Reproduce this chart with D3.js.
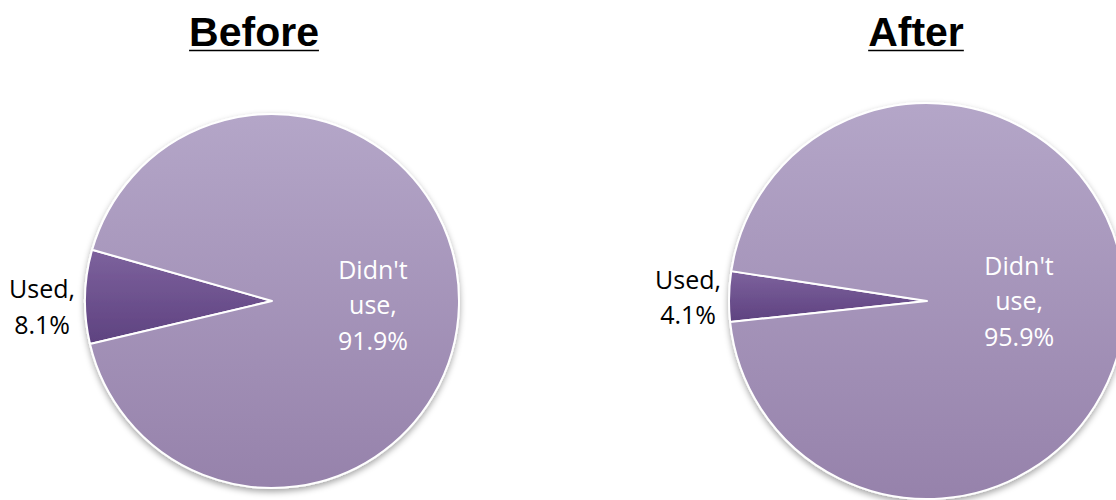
<!DOCTYPE html>
<html>
<head>
<meta charset="utf-8">
<script src="https://cdn.jsdelivr.net/npm/d3@7"></script>
<style>
  html, body { margin: 0; padding: 0; background: #fff; }
  svg { display: block; }
</style>
</head>
<body>
<svg id="chart" width="1116" height="500"></svg>
<script>
// Share of respondents, before and after
const categories = ["Used", "Didn't use"];
const beforeValues = [8.1, 91.9];
const afterValues = [4.1, 95.9];
const titles = ["Before", "After"];

const W = 1116, H = 500;
const svg = d3.select("#chart");
const defs = svg.append("defs");

// Soft shadow under each pie
const shadow = defs.append("filter")
  .attr("id", "pieShadow")
  .attr("x", "-10%").attr("y", "-10%")
  .attr("width", "120%").attr("height", "125%");
shadow.append("feDropShadow")
  .attr("dx", 0).attr("dy", 3)
  .attr("stdDeviation", 3)
  .attr("flood-color", "#000")
  .attr("flood-opacity", 0.35);

// Vertical gradients, one per category
const gradientStops = {
  "Used": ["#7d629d", "#5e4280"],
  "Didn't use": ["#b4a6c8", "#9682ab"]
};
categories.forEach((c, i) => {
  const g = defs.append("linearGradient")
    .attr("id", "grad" + i)
    .attr("x1", 0).attr("y1", 0).attr("x2", 0).attr("y2", 1);
  g.append("stop").attr("offset", "0%").attr("stop-color", gradientStops[c][0]);
  g.append("stop").attr("offset", "100%").attr("stop-color", gradientStops[c][1]);
});

// Panel layout
const panels = [
  { title: titles[0], values: beforeValues, cx: 272, cy: 301, r: 187, titleX: 254, innerFrac: 0.54, innerDy: 2, outerGap: 43, outerDy: 11 },
  { title: titles[1], values: afterValues,  cx: 927, cy: 301, r: 198, titleX: 916, innerFrac: 0.465, innerDy: -2, outerGap: 41, outerDy: 2 }
];

// "Used" slice is centred just above the 9 o'clock position
const usedMid = (271.3 / 180) * Math.PI;
const lineH = 35.5;
const labelFont = "'Open Sans', 'Noto Sans', sans-serif";

panels.forEach(p => {
  // Title with underline
  const t = svg.append("text")
    .attr("x", p.titleX).attr("y", 46)
    .attr("text-anchor", "middle")
    .attr("font-family", "'Liberation Sans', Arial, sans-serif")
    .attr("font-weight", "bold")
    .attr("font-size", 41)
    .attr("fill", "#000")
    .text(p.title);
  const tw = t.node().getComputedTextLength();
  svg.append("line")
    .attr("x1", p.titleX - tw / 2).attr("x2", p.titleX + tw / 2)
    .attr("y1", 50.5).attr("y2", 50.5)
    .attr("stroke", "#000").attr("stroke-width", 1.4);

  const total = d3.sum(p.values);
  const a0 = usedMid - (p.values[0] / total) * Math.PI;
  const pie = d3.pie().sort(null).value(d => d)
    .startAngle(a0).endAngle(a0 + 2 * Math.PI);
  const arcs = pie(p.values);
  const arc = d3.arc().innerRadius(0).outerRadius(p.r);

  const g = svg.append("g").attr("transform", `translate(${p.cx},${p.cy})`);
  const slices = g.append("g").attr("filter", "url(#pieShadow)");
  slices.selectAll("path")
    .data(arcs)
    .join("path")
    .attr("d", arc)
    .attr("fill", (d, i) => `url(#grad${i})`)
    .attr("stroke", "#fff")
    .attr("stroke-width", 2)
    .attr("stroke-linejoin", "round");

  // Data labels
  arcs.forEach((d, i) => {
    const mid = (d.startAngle + d.endAngle) / 2;
    const cat = categories[i];
    const words = cat.split(" ");
    words[words.length - 1] += ",";
    const lines = words.concat([d3.format(".1f")(p.values[i]) + "%"]);
    let x, yMid, fill;
    if (i === 0) {
      const rr = p.r + p.outerGap;
      x = Math.sin(mid) * rr;
      yMid = -Math.cos(mid) * rr + p.outerDy;
      fill = "#000";
    } else {
      const rr = p.r * p.innerFrac;
      x = Math.sin(mid) * rr;
      yMid = -Math.cos(mid) * rr + p.innerDy;
      fill = "#fff";
    }
    const label = g.append("text")
      .attr("text-anchor", "middle")
      .attr("font-family", labelFont)
      .attr("font-size", 25)
      .attr("fill", fill);
    const firstBaseline = yMid - ((lines.length - 1) * lineH) / 2 + 9;
    lines.forEach((ln, k) => {
      label.append("tspan")
        .attr("x", x)
        .attr("y", firstBaseline + k * lineH)
        .text(ln);
    });
  });
});
</script>
</body>
</html>
